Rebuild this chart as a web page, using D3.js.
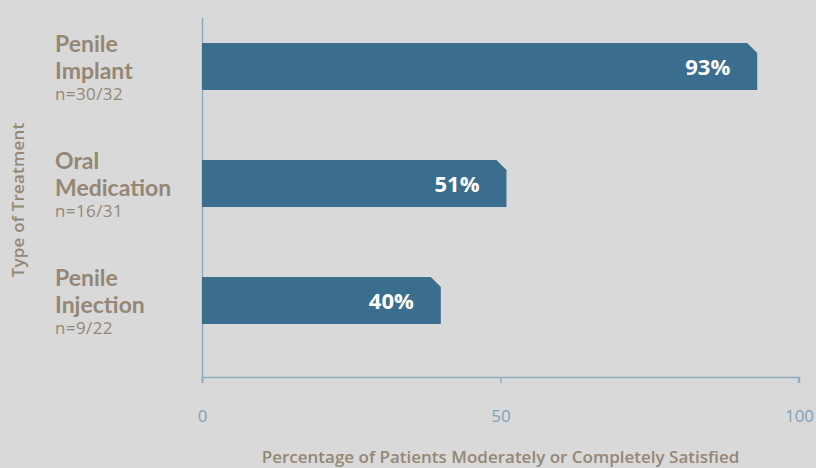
<!DOCTYPE html>
<html>
<head>
<meta charset="utf-8">
<script src="https://cdn.jsdelivr.net/npm/d3@7"></script>
<style>
  body { margin: 0; background: #d9d9d9; }
  svg { display: block; font-family: Lato, "Open Sans", sans-serif; }
</style>
</head>
<body>
<div id="chart"></div>
<script>
// chart data
var treatments = ["Penile Implant", "Oral Medication", "Penile Injection"];
var labelLines = [["Penile", "Implant"], ["Oral", "Medication"], ["Penile", "Injection"]];
var sampleText = ["n=30/32", "n=16/31", "n=9/22"];
var satisfied = [93, 51, 40];
var xTicks = [0, 50, 100];

var svgWidth = 816, svgHeight = 468;
var margin = { top: 18, right: 17, bottom: 91, left: 202 };
var width = svgWidth - margin.left - margin.right;
var height = svgHeight - margin.top - margin.bottom;

var tan = "#958774";
var barColor = "#3b6d8e";
var axisColor = "#8eadc2";
var smallFont = "'Open Sans', sans-serif";

var svg = d3.select("#chart").append("svg")
  .attr("width", svgWidth)
  .attr("height", svgHeight);

svg.append("rect").attr("width", svgWidth).attr("height", svgHeight).attr("fill", "#d9d9d9");

var chartGroup = svg.append("g")
  .attr("transform", `translate(${margin.left}, ${margin.top})`);

var xScale = d3.scaleLinear().domain([0, 100]).range([0, width]);
var yScale = d3.scaleBand().domain(treatments)
  .range([-10, 341])
  .paddingInner(0.6)
  .paddingOuter(0.3);

// x axis
var bottomAxis = d3.axisBottom(xScale).tickValues(xTicks).tickSize(6).tickPadding(27);
var xAxis = chartGroup.append("g")
  .attr("transform", `translate(0, ${height})`)
  .call(bottomAxis);
xAxis.select(".domain").attr("stroke", axisColor).attr("stroke-width", 1.5)
  .attr("d", `M0.5,6V0.5H${width - 0.5}V6`);
xAxis.selectAll(".tick line").attr("stroke", axisColor).attr("stroke-width", 1.5);
xAxis.selectAll(".tick text")
  .attr("fill", "#7fa2b9")
  .attr("font-size", "17px")
  .attr("font-family", smallFont);

// y axis line
chartGroup.append("line")
  .attr("x1", 0.5).attr("x2", 0.5)
  .attr("y1", 0).attr("y2", height)
  .attr("stroke", axisColor).attr("stroke-width", 1.5);

// bars with clipped top-right corner
var cut = 10;
chartGroup.selectAll("path.bar")
  .data(treatments)
  .enter()
  .append("path")
  .attr("class", "bar")
  .attr("fill", barColor)
  .attr("d", function(d, i) {
    var x1 = xScale(satisfied[i]);
    var y0 = yScale(d), y1 = y0 + yScale.bandwidth();
    return `M0,${y0}H${x1 - cut}L${x1},${y0 + cut}V${y1}H0Z`;
  });

// value labels
chartGroup.selectAll("text.value")
  .data(treatments)
  .enter()
  .append("text")
  .attr("class", "value")
  .attr("x", (d, i) => xScale(satisfied[i]) - 27)
  .attr("y", d => yScale(d) + yScale.bandwidth() / 2 + 8)
  .attr("text-anchor", "end")
  .attr("fill", "white")
  .attr("font-size", "22px")
  .attr("font-family", smallFont)
  .attr("font-weight", "bold")
  .text((d, i) => satisfied[i] + "%");

// category labels
var labels = svg.selectAll("g.cat")
  .data(treatments)
  .enter()
  .append("g")
  .attr("class", "cat")
  .attr("transform", d => `translate(55, ${margin.top + yScale(d) + yScale.bandwidth() / 2})`);

labels.append("text")
  .attr("y", -15)
  .attr("fill", tan)
  .attr("font-size", "23px")
  .attr("font-weight", "bold")
  .text((d, i) => labelLines[i][0]);

labels.append("text")
  .attr("y", 12)
  .attr("fill", tan)
  .attr("font-size", "23px")
  .attr("font-weight", "bold")
  .text((d, i) => labelLines[i][1]);

labels.append("text")
  .attr("y", 33)
  .attr("fill", tan)
  .attr("font-size", "17px")
  .attr("letter-spacing", "0.4px")
  .attr("font-family", smallFont)
  .text((d, i) => sampleText[i]);

// axis titles
svg.append("text")
  .attr("transform", "translate(24, 200) rotate(-90)")
  .attr("text-anchor", "middle")
  .attr("fill", tan)
  .attr("font-size", "17px")
  .attr("letter-spacing", "0.2px")
  .attr("font-family", smallFont)
  .attr("font-weight", 600)
  .text("Type of Treatment");

svg.append("text")
  .attr("x", margin.left + width / 2)
  .attr("y", 463)
  .attr("text-anchor", "middle")
  .attr("fill", tan)
  .attr("font-size", "17px")
  .attr("font-family", smallFont)
  .attr("font-weight", 600)
  .text("Percentage of Patients Moderately or Completely Satisfied");
</script>
</body>
</html>
